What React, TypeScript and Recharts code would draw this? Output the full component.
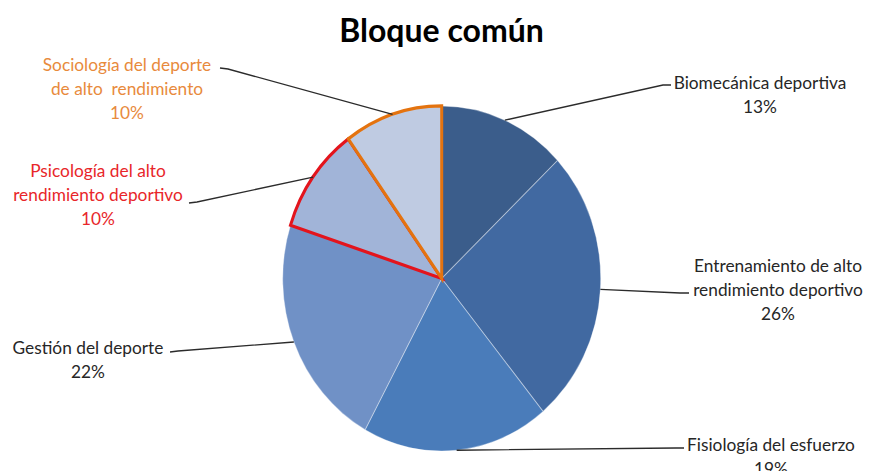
import React from 'react';
import { PieChart, Pie, Cell } from 'recharts';

// subjects of the common block and their share of hours (%)
const SUBJECTS = [
    'Biomecánica deportiva',
    'Entrenamiento de alto rendimiento deportivo',
    'Fisiología del esfuerzo',
    'Gestión del deporte',
    'Psicología del alto rendimiento deportivo',
    'Sociología del deporte de alto rendimiento',
];
const SHARES = [13, 26, 19, 22, 10, 10];

// how each label is broken into lines
const LABEL_LINES = [
    ['Biomecánica deportiva'],
    ['Entrenamiento de alto', 'rendimiento deportivo'],
    ['Fisiología del esfuerzo'],
    ['Gestión del deporte'],
    ['Psicología del alto', 'rendimiento deportivo'],
    ['Sociología del deporte', 'de alto  rendimiento'],
];

const FILLS = ['#3b5d8b', '#4169a1', '#4a7cba', '#7091c6', '#a1b4d8', '#bfcbe2'];
const TEXT_COLORS = ['#262626', '#262626', '#262626', '#262626', '#e8262a', '#e88a3c'];
const OUTLINES: (string | null)[] = [null, null, null, null, '#e3141c', '#e4730f'];

// label placement: leader elbow, leader end, text centre x, first line centre y
const LABEL_LAYOUT = [
    { elbow: [663, 85], end: [671, 85], x: 760, y: 82 },
    { elbow: [680, 293], end: [689, 293], x: 778, y: 265 },
    { elbow: [676, 448], end: [684, 448], x: 771, y: 444 },
    { elbow: [178, 351], end: [170, 352], x: 88, y: 347 },
    { elbow: [197, 202], end: [189, 203], x: 98, y: 170 },
    { elbow: [228, 69], end: [220, 68], x: 127, y: 64 },
];

const CX = 441.7;
const CY = 278.5;
const R = 159;
const SQUASH = 1.085;
const LINE_H = 24;

const data = SUBJECTS.map((name, i) => ({ name, value: SHARES[i] }));

const renderLabel = (props: any) => {
    const { midAngle, index, value } = props;
    const rad = (midAngle * Math.PI) / 180;
    const sx = CX + R * Math.cos(rad);
    const sy = CY - R * SQUASH * Math.sin(rad);
    const l = LABEL_LAYOUT[index];
    const lines = [...LABEL_LINES[index], `${value}%`];
    return (
        <g key={`lbl-${index}`}>
            <polyline
                points={`${sx},${sy} ${l.elbow[0]},${l.elbow[1]} ${l.end[0]},${l.end[1]}`}
                fill="none"
                stroke="#2b2b2b"
                strokeWidth={1.3}
            />
            {lines.map((t, j) => (
                <text
                    key={j}
                    x={l.x}
                    y={l.y + j * LINE_H}
                    textAnchor="middle"
                    dominantBaseline="central"
                    fill={TEXT_COLORS[index]}
                    fontSize={17.3}
                    fontFamily="Lato, sans-serif"
                    style={{ whiteSpace: 'pre' }}
                >
                    {t}
                </text>
            ))}
        </g>
    );
};

const App = () => {
    return (
        <div style={{ position: 'absolute', left: 0, top: 0, width: 872, height: 471, background: '#fff' }}>
            <style>{`
                .recharts-pie .recharts-sector {
                    transform-origin: ${CX}px ${CY}px;
                    transform: scaleY(${SQUASH});
                }
            `}</style>
            <div
                style={{
                    position: 'absolute',
                    left: 0,
                    top: 10,
                    width: 883,
                    textAlign: 'center',
                    fontFamily: 'Lato, sans-serif',
                    fontWeight: 700,
                    fontSize: 32,
                    color: '#000',
                    lineHeight: '40px',
                }}
            >
                Bloque común
            </div>
            <PieChart width={872} height={471} margin={{ top: 0, right: 0, bottom: 0, left: 0 }}>
                <Pie
                    data={data}
                    dataKey="value"
                    nameKey="name"
                    cx={CX}
                    cy={CY}
                    outerRadius={R}
                    startAngle={90}
                    endAngle={-270}
                    label={renderLabel}
                    labelLine={false}
                    isAnimationActive={false}
                >
                    {data.map((d, i) => (
                        <Cell
                            key={d.name}
                            fill={FILLS[i]}
                            stroke={OUTLINES[i] ?? 'rgba(255,255,255,0.35)'}
                            strokeWidth={OUTLINES[i] ? 3 : 1}
                            strokeLinejoin="miter"
                        />
                    ))}
                </Pie>
            </PieChart>
        </div>
    );
};

export default App;
